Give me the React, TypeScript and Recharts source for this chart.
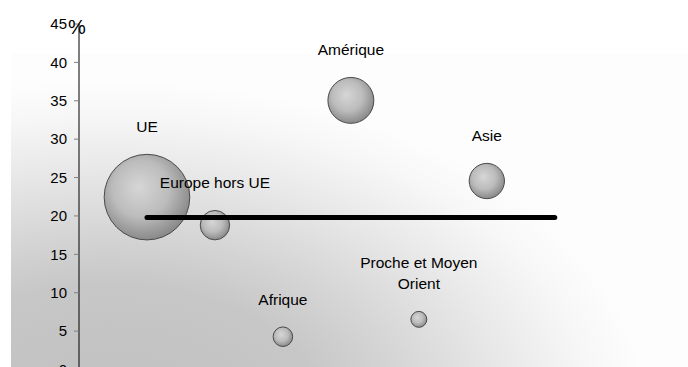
import React from 'react';
import { ScatterChart, Scatter, XAxis, YAxis, ZAxis } from 'recharts';

const categories = ['UE', 'Europe hors UE', 'Afrique', 'Amérique', 'Proche et Moyen\nOrient', 'Asie'];
const xPositions = [1, 2, 3, 4, 5, 6];
const shareValues = [22.45, 18.8, 4.27, 35.05, 6.53, 24.55];
const bubbleSizes = [57.6, 6.8, 3.0, 16.6, 2.0, 9.8];
const averageLineX = [1, 7];
const averageLineY = [19.8, 19.8];
const yTicks = [0, 5, 10, 15, 20, 25, 30, 35, 40, 45];
const unitLabel = '%';

const bubbleData = categories.map((name, i) => ({
  name,
  x: xPositions[i],
  y: shareValues[i],
  z: bubbleSizes[i],
}));
const lineData = averageLineX.map((x, i) => ({ x, y: averageLineY[i] }));

const FONT = '"Liberation Sans", Arial, Helvetica, sans-serif';

const BubbleShape = (props: any) => {
  const { cx, cy, width } = props;
  const r = width / 2;
  return <circle cx={cx} cy={cy} r={r} fill="url(#bubbleGrad)" stroke="#4a4a4a" strokeWidth={1} />;
};

const LabelShape = (props: any) => {
  const { cx, cy, width, payload } = props;
  const r = width / 2;
  const lines: string[] = String(payload.name).split('\n');
  const lastBaseline = cy - r - 22.3;
  return (
    <text textAnchor="middle" fontSize={15.5} fontFamily={FONT} fill="#000">
      {lines.map((l, i) => (
        <tspan key={i} x={cx} y={lastBaseline - (lines.length - 1 - i) * 21}>
          {l}
        </tspan>
      ))}
    </text>
  );
};

const Empty = () => <g />;

export default function App() {
  return (
    <div style={{ position: 'absolute', left: 0, top: 0, width: 688, height: 367, overflow: 'hidden', background: '#fff' }}>
      <svg width={0} height={0} style={{ position: 'absolute' }}>
        <defs>
          <radialGradient id="bubbleGrad" cx="0.45" cy="0.42" r="0.6" fx="0.4" fy="0.38">
            <stop offset="0%" stopColor="#d6d6d6" />
            <stop offset="55%" stopColor="#bcbcbc" />
            <stop offset="100%" stopColor="#868686" />
          </radialGradient>
        </defs>
      </svg>
      <div
        style={{
          position: 'absolute',
          left: 11,
          top: 53,
          width: 677,
          height: 314,
          background:
            'radial-gradient(540px 340px at 99px 367px, #bfbfbf 0%, #c7c7c7 40%, #d5d5d5 55%, #e9e9e9 75%, #f7f7f7 90%, #fdfdfd 100%)',
        }}
      />
      <div style={{ position: 'absolute', left: 0, top: 0 }}>
        <ScatterChart width={688} height={380} margin={{ top: 24, right: 0, bottom: 10.5, left: 0 }}>
          <XAxis type="number" dataKey="x" domain={[0, 8.96]} hide />
          <YAxis
            type="number"
            dataKey="y"
            domain={[0, 45]}
            ticks={yTicks}
            width={79}
            axisLine={{ stroke: '#000', strokeWidth: 1 }}
            tickLine={{ stroke: '#7f7f7f' }}
            tickSize={5}
            tickMargin={7}
            tick={{ fontSize: 15, fill: '#000', fontFamily: FONT }}
            interval={0}
          />
          <ZAxis type="number" dataKey="z" domain={[0, 57.6]} range={[0, 5755]} />
          <Scatter data={bubbleData} shape={BubbleShape} isAnimationActive={false} />
          <Scatter
            data={lineData}
            line={{ stroke: '#000', strokeWidth: 5, strokeLinecap: 'round' }}
            shape={Empty}
            isAnimationActive={false}
          />
          <Scatter data={bubbleData} shape={LabelShape} isAnimationActive={false} />
        </ScatterChart>
      </div>
      <span
        style={{
          position: 'absolute',
          left: 68,
          top: 16,
          fontSize: 20,
          lineHeight: 'normal',
          fontFamily: FONT,
          color: '#000',
        }}
      >
        {unitLabel}
      </span>
    </div>
  );
}
